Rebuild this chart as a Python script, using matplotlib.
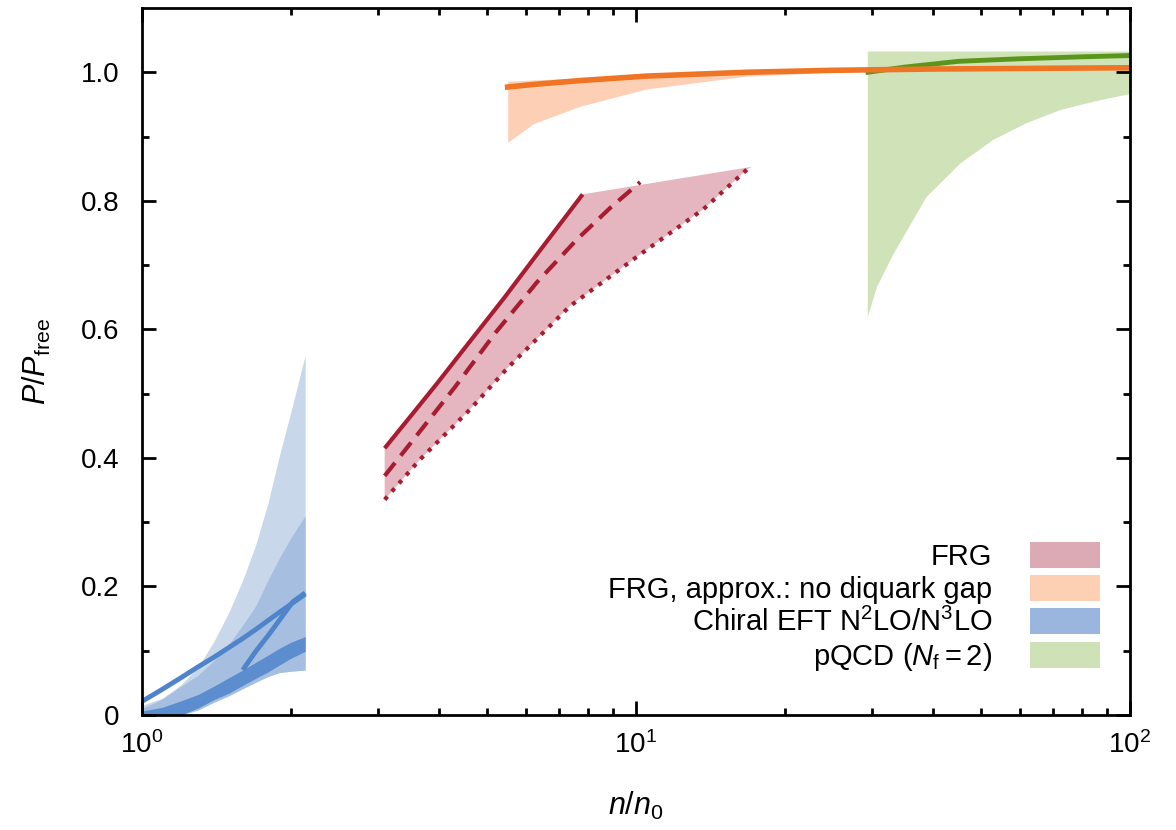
#!/usr/bin/env python3
"""Pressure over free pressure vs. density: chiral EFT, FRG and pQCD bands."""

import math
import matplotlib
matplotlib.use('Agg')
import matplotlib.pyplot as plt
from matplotlib.patches import Patch
from matplotlib.ticker import FixedLocator, FuncFormatter, LogLocator, NullFormatter

# --- chiral EFT (N2LO/N3LO) ---
chiral_n = [1.0, 1.1, 1.2, 1.3, 1.4, 1.5, 1.6, 1.7, 1.8, 1.9, 2.0, 2.14]
chiral_light_lo = [0.0, 0.0, 0.0, 0.008, 0.02, 0.03, 0.041, 0.051, 0.06, 0.066, 0.068, 0.07]
chiral_light_hi = [0.015, 0.026, 0.047, 0.075, 0.115, 0.16, 0.21, 0.265, 0.33, 0.405, 0.47, 0.56]
chiral_mid_hi = [0.01, 0.025, 0.045, 0.062, 0.085, 0.11, 0.14, 0.17, 0.21, 0.245, 0.275, 0.31]
chiral_dark_lo = [0.0, 0.0, 0.0, 0.011, 0.024, 0.034, 0.046, 0.057, 0.067, 0.078, 0.088, 0.099]
chiral_dark_hi = [0.006, 0.012, 0.022, 0.032, 0.045, 0.058, 0.07, 0.082, 0.093, 0.104, 0.113, 0.122]
chiral_line = [0.021, 0.04, 0.058, 0.075, 0.09, 0.105, 0.119, 0.133, 0.147, 0.16, 0.172, 0.188]
branch_n = [1.6, 1.7, 1.815, 1.9, 2.02, 2.14]
branch_line = [0.07, 0.099, 0.127, 0.148, 0.176, 0.19]

# --- FRG ---
frg_solid_n = [3.1, 3.5, 3.95, 4.6, 5.4, 6.5, 7.8]
frg_solid = [0.415, 0.465, 0.515, 0.58, 0.648, 0.73, 0.81]
frg_dash_n = [3.1, 3.6, 4.3, 5.2, 6.3, 7.6, 8.9, 10.2]
frg_dash = [0.372, 0.435, 0.51, 0.595, 0.673, 0.74, 0.79, 0.829]
frg_dot_n = [3.1, 3.65, 4.61, 5.5, 7.35, 10.05, 13.7, 16.8]
frg_dot = [0.335, 0.397, 0.475, 0.54, 0.636, 0.713, 0.787, 0.849]
frg_tip = (17.2, 0.853)

# --- FRG, no diquark gap ---
nogap_n = [5.5, 6.2, 7.7, 10.5, 16.8, 25, 40, 100]
nogap_line = [0.977, 0.981, 0.987, 0.994, 1.0, 1.003, 1.005, 1.007]
nogap_hi = [0.986, 0.988, 0.991, 0.996, 1.001, 1.004, 1.006, 1.009]
nogap_lo = [0.891, 0.92, 0.947, 0.974, 0.994, 1.0, 1.004, 1.006]

# --- pQCD (Nf = 2) ---
pqcd_n = [29.4, 30.7, 33.2, 38.7, 45.3, 52.9, 61.8, 72.2, 84.3, 100]
pqcd_lo = [0.62, 0.667, 0.719, 0.807, 0.859, 0.896, 0.922, 0.942, 0.955, 0.967]
pqcd_hi = [1.033] * len(pqcd_n)
pqcd_line_n = [29.5, 35, 45, 60, 80, 100]
pqcd_line = [1.0, 1.008, 1.017, 1.021, 1.024, 1.026]

legend_labels = ['FRG', 'FRG, approx.: no diquark gap',
                 r'Chiral EFT N$^2$LO/N$^3$LO', r'pQCD ($N_{\rm f}=2$)']
legend_colors = ['#dcaab5', '#fdcfb3', '#9ab6de', '#cfe1b6']

plt.rcParams['font.family'] = ['Liberation Sans', 'DejaVu Sans']
plt.rcParams['mathtext.fontset'] = 'custom'
plt.rcParams['mathtext.rm'] = 'Liberation Sans'
plt.rcParams['mathtext.it'] = 'Liberation Sans:italic'
plt.rcParams['mathtext.bf'] = 'Liberation Sans:bold'

fig = plt.figure(figsize=(11.76, 8.3), dpi=100)
ax = fig.add_axes([0.1207, 0.1386, 0.8401, 0.8518])

# chiral EFT
ax.fill_between(chiral_n, chiral_light_lo, chiral_light_hi, color='#c9d7ea', lw=0)
ax.fill_between(chiral_n, chiral_light_lo, chiral_mid_hi, color='#a6bfe0', lw=0)
ax.fill_between(chiral_n, chiral_dark_lo, chiral_dark_hi, color='#5b8dcf', lw=0)
ax.plot(chiral_n, chiral_line, color='#4f84cb', lw=3.5, solid_capstyle='butt')
ax.plot(branch_n, branch_line, color='#4f84cb', lw=3.5, solid_capstyle='butt')

# FRG band and lines
band_x = frg_solid_n + [frg_tip[0]] + frg_dot_n[::-1]
band_y = frg_solid + [frg_tip[1]] + frg_dot[::-1]
ax.fill(band_x, band_y, color='#e5b6bf', lw=0)
red = '#a71c31'
ax.plot(frg_solid_n, frg_solid, color=red, lw=3, solid_capstyle='butt')
ax.plot(frg_dash_n, frg_dash, color=red, lw=3, ls=(0, (4, 2.2)))
ax.plot(frg_dot_n, frg_dot, color=red, lw=3, ls=(0, (1, 1.6)))

# pQCD
ax.fill_between(pqcd_n, pqcd_lo, pqcd_hi, color='#d0e2b8', lw=0)
ax.plot(pqcd_line_n, pqcd_line, color='#5a961c', lw=3.5)

# no diquark gap
ax.fill_between(nogap_n, nogap_lo, nogap_hi, color='#fdd0b5', lw=0)
ax.plot(nogap_n, nogap_line, color='#ef7424', lw=4)

ax.set_xscale('log')
ax.set_xlim(1, 100)
ax.set_ylim(0, 1.1)

ax.xaxis.set_major_locator(FixedLocator([1, 10, 100]))
ax.xaxis.set_major_formatter(FuncFormatter(
    lambda v, _: r'$10^{%d}$' % round(math.log10(v))))
ax.xaxis.set_minor_locator(LogLocator(base=10, subs=range(2, 10)))
ax.xaxis.set_minor_formatter(NullFormatter())
ax.yaxis.set_major_locator(FixedLocator([0, 0.2, 0.4, 0.6, 0.8, 1.0]))
ax.yaxis.set_minor_locator(FixedLocator([0.1, 0.3, 0.5, 0.7, 0.9]))
ax.yaxis.set_major_formatter(FuncFormatter(lambda v, _: '0' if v == 0 else '%.1f' % v))

ax.tick_params(which='both', direction='in', top=True, right=True, width=2,
               labelsize=20)
ax.tick_params(which='major', length=10)
ax.tick_params(which='minor', length=5)
ax.tick_params(axis='y', which='major', pad=16)
ax.tick_params(axis='x', which='major', pad=12)
for spine in ax.spines.values():
    spine.set_linewidth(2)

ax.set_xlabel(r'$n/n_0$', fontsize=22, labelpad=22)
ax.set_ylabel(r'$P/P_{\rm free}$', fontsize=22, labelpad=20)

handles = [Patch(facecolor=c, edgecolor='none') for c in legend_colors]
ax.legend(handles, legend_labels, loc='lower right', bbox_to_anchor=(0.97, 0.06),
          frameon=False, markerfirst=False, fontsize=21, borderpad=0,
          borderaxespad=0, labelspacing=0.13, handlelength=2.4,
          handleheight=1.0, handletextpad=1.3)

fig.savefig('out.png', dpi=100)
